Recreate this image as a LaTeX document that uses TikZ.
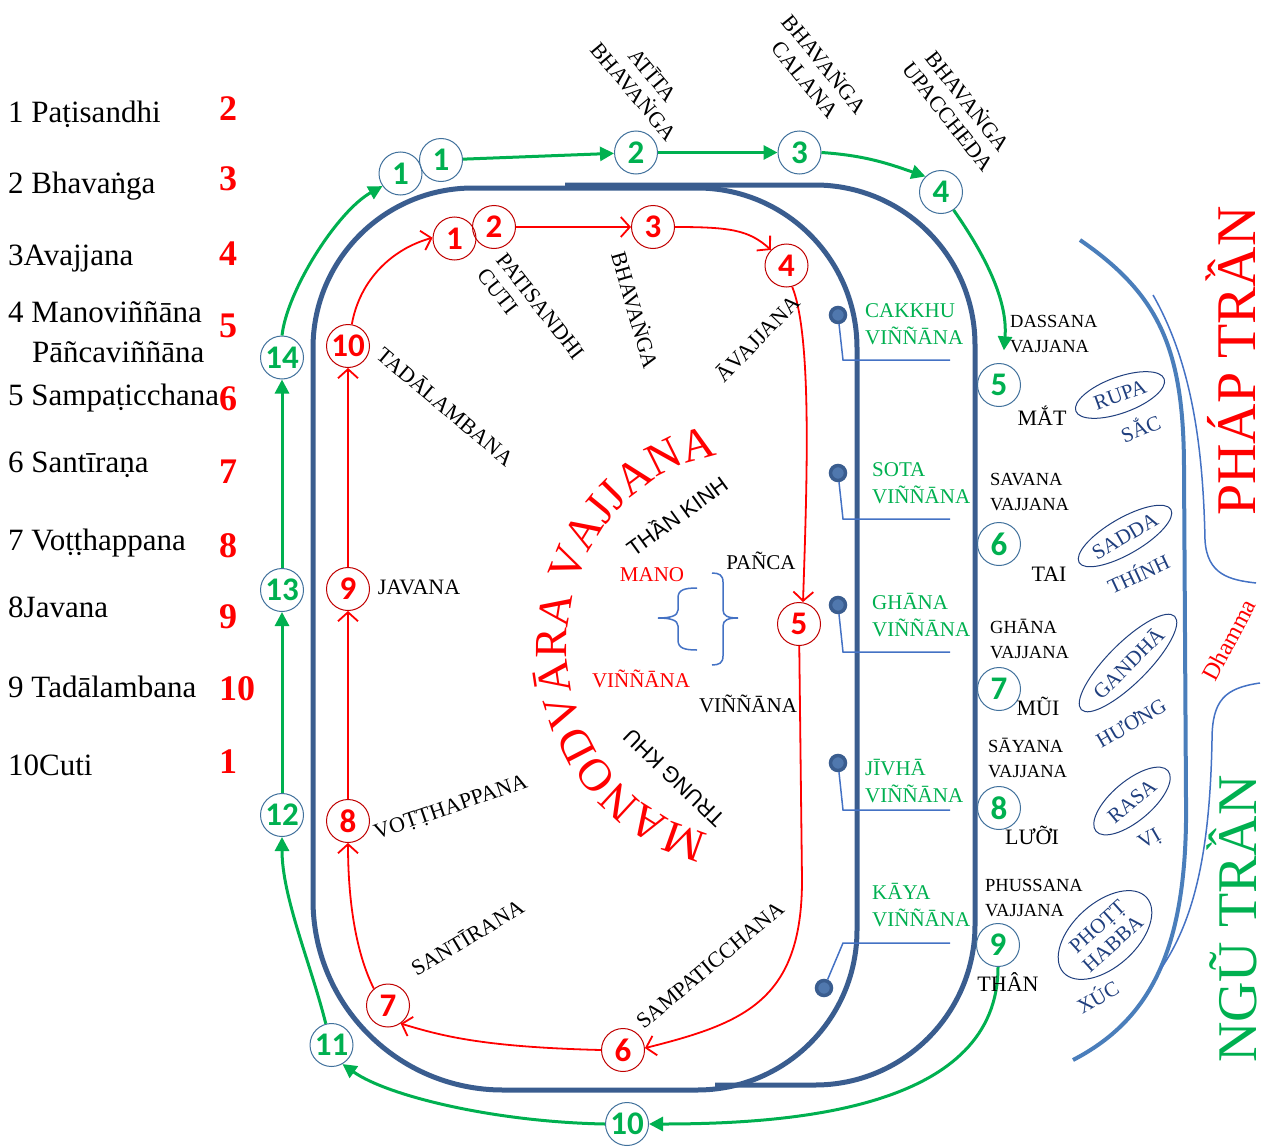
\documentclass[tikz,border=0pt]{standalone}
\usepackage{fontspec}
\setmainfont{Liberation Serif}
\newfontfamily\numfnt{Carlito}
\newfontfamily\sansfnt{Liberation Sans}
\usetikzlibrary{arrows.meta,shapes.geometric,decorations.text}
\definecolor{rblue}{HTML}{3A5D8F}
\definecolor{lblue}{HTML}{4A7EBB}
\definecolor{tblue}{HTML}{4472C4}
\definecolor{cblue}{HTML}{41719C}
\definecolor{gg}{HTML}{00B050}
\definecolor{rr}{HTML}{FF0000}
\definecolor{rcol}{HTML}{C00000}
\definecolor{dblue}{HTML}{203F7E}
\definecolor{dotin}{HTML}{5078AE}
\newcommand\bigfnt{\fontsize{46}{46}\selectfont}
\begin{document}
\begin{tikzpicture}[x=1pt,y=1pt,
  gcirc/.style={circle,draw=cblue,line width=1pt,minimum size=43pt,inner sep=0pt,text=gg,font=\numfnt\bfseries\fontsize{33}{33}\selectfont},
  rcirc/.style={circle,draw=rcol,line width=1pt,minimum size=43pt,inner sep=0pt,text=rr,font=\numfnt\bfseries\fontsize{33}{33}\selectfont},
  garr/.style={draw=gg,line width=3pt,-{Triangle[length=14pt,width=14pt]}},
  rarr/.style={draw=rr,line width=1.8pt,-{Straight Barb[length=9pt,width=20pt]}},
  bigbox/.style={draw=rblue,line width=5pt},
  lbl/.style={inner sep=0pt,align=center,font=\fontsize{22}{25}\selectfont},
  lst/.style={anchor=base west,inner sep=0pt,font=\fontsize{31}{31}\selectfont},
  lnum/.style={anchor=base west,inner sep=0pt,text=rr,font=\bfseries\fontsize{36}{36}\selectfont},
  gl/.style={anchor=west,align=left,inner sep=0pt,text=gg,font=\fontsize{21}{27}\selectfont},
  bl/.style={anchor=west,align=left,inner sep=0pt,font=\fontsize{18.5}{25}\selectfont},
  bw/.style={inner sep=0pt,font=\fontsize{22}{25}\selectfont},
  ell/.style={ellipse,draw=dblue,line width=1pt,inner sep=0pt,text=dblue,align=center,font=\fontsize{21}{23}\selectfont},
  dbt/.style={inner sep=0pt,text=dblue,font=\fontsize{21}{23}\selectfont},
  bdot/.style={circle,fill=dotin,draw=rblue,line width=3.5pt,minimum size=15pt,inner sep=0pt},
  cl/.style={draw=tblue,line width=1.5pt},
  brc/.style={draw=tblue,line width=1.5pt},
  ]
\useasboundingbox (0,0) rectangle (1266,-1148);

% ---------- big blue frames ----------
\draw[bigbox] (313,-600) -- (313,-348) arc[start angle=180,end angle=90,radius=160]
  -- (697,-188) arc[start angle=90,end angle=0,radius=160]
  -- (857,-930) arc[start angle=0,end angle=-90,radius=160]
  -- (503,-1090) arc[start angle=270,end angle=180,radius=190] -- cycle;
\draw[bigbox] (565,-185) -- (815,-185) arc[start angle=90,end angle=0,radius=160]
  -- (975,-925) arc[start angle=0,end angle=-90,radius=160] -- (715,-1085);

% ---------- right curves ----------
\draw[draw=lblue,line width=4pt] (1080,-240) .. controls (1160,-295) and (1184,-350) .. (1184,-470)
  -- (1186,-800) .. controls (1188,-950) and (1150,-1020) .. (1073,-1060);
\draw[cl] (1153,-295) .. controls (1190,-360) and (1203,-440) .. (1205,-540)
  .. controls (1207,-575) and (1230,-580) .. (1256,-583);
\draw[cl] (1260,-683) .. controls (1225,-688) and (1212,-700) .. (1212,-740)
  .. controls (1210,-850) and (1195,-920) .. (1160,-970);

% ---------- dots and callouts ----------
\coordinate (d1a) at (843,-360); \coordinate (d1b) at (950,-360);
\coordinate (d2a) at (843,-519); \coordinate (d2b) at (950,-519);
\coordinate (d3a) at (843,-652); \coordinate (d3b) at (950,-652);
\coordinate (d4a) at (843,-810); \coordinate (d4b) at (950,-810);
\coordinate (d5a) at (843,-943); \coordinate (d5b) at (950,-943);
\node[bdot] (d1) at (838,-315) {};
\node[bdot] (d2) at (838,-473) {};
\node[bdot] (d3) at (838,-605) {};
\node[bdot] (d4) at (838,-763) {};
\node[bdot] (d5) at (824,-988) {};
\draw[cl] (d1) -- (d1a) -- (d1b);
\draw[cl] (d2) -- (d2a) -- (d2b);
\draw[cl] (d3) -- (d3a) -- (d3b);
\draw[cl] (d4) -- (d4a) -- (d4b);
\draw[cl] (d5) -- (d5a) -- (d5b);

% ---------- green circles ----------
\node[gcirc] (g1a) at (400.5,-173.5) {1};
\node[gcirc] (g1b) at (441,-160) {1};
\node[gcirc] (g2) at (636,-152.5) {2};
\node[gcirc] (g3) at (799.5,-152.5) {3};
\node[gcirc] (g4) at (941,-192) {4};
\node[gcirc] (g5) at (999,-385) {5};
\node[gcirc] (g6) at (999,-544) {6};
\node[gcirc] (g7) at (999,-689) {7};
\node[gcirc] (g8) at (999,-808) {8};
\node[gcirc] (g9) at (998,-945) {9};
\node[gcirc] (g10) at (627,-1124) {10};
\node[gcirc] (g11) at (331.5,-1045) {11};
\node[gcirc] (g12) at (282,-815) {12};
\node[gcirc] (g13) at (282,-590) {13};
\node[gcirc] (g14) at (282,-357.5) {14};

% ---------- green arrows ----------
\draw[garr] (g1b) -- (g2);
\draw[garr] (g2) -- (g3);
\draw[garr] (g3.east) .. controls +(45,-3) and +(-35,12) .. (g4.135);
\draw[garr,shorten >=13pt] (g4.-55) .. controls +(35,-50) and +(5,60) .. (g5.80);
\draw[garr] (g9.south) .. controls +(0,-140) and +(150,0) .. (g10.east);
\draw[garr] (g10.west) .. controls +(-110,2) and +(45,-32) .. (g11.-60);
\draw[garr] (g11.105) .. controls +(-15,60) and +(0,-60) .. (g12.south);
\draw[garr] (g12) -- (g13);
\draw[garr] (g13) -- (g14);
\draw[garr] (g14.north) .. controls +(5,45) and +(-45,-25) .. (g1a.215);

% ---------- red circles ----------
\node[rcirc] (r1) at (454.5,-238.5) {1};
\node[rcirc] (r2) at (494,-227) {2};
\node[rcirc] (r3) at (653,-227) {3};
\node[rcirc] (r4) at (786.5,-265.5) {4};
\node[rcirc] (r5) at (799,-624) {5};
\node[rcirc] (r6) at (623,-1050) {6};
\node[rcirc] (r7) at (388,-1005.5) {7};
\node[rcirc] (r8) at (348,-821) {8};
\node[rcirc] (r9) at (348,-589) {9};
\node[rcirc] (r10) at (348,-346) {10};
\coordinate (r56) at (802,-880);

% ---------- red arrows ----------
\draw[rarr] (r10.80) .. controls +(8,45) and +(-40,-11) .. (r1.178);
\draw[rarr] (r2) -- (r3);
\draw[rarr] (r3.east) .. controls +(55,0) and +(-22,20) .. (r4.135);
\draw[rarr] (r4.-75) .. controls +(20,-50) and +(4,120) .. ([xshift=4pt]r5.north);
\draw[rarr] (r5) -- (r56) .. controls +(0,-120) and +(100,25) .. (r6.5);
\draw[rarr] (r6.west) .. controls +(-120,3) and +(40,-12) .. (r7.-55);
\draw[rarr] (r7.130) .. controls +(-20,40) and +(0,-50) .. (r8.south);
\draw[rarr] (r8) -- (r9);
\draw[rarr] (r9) -- (r10);

% ---------- left list ----------
\node[lst] (l1) at (8,-122) {1 Paṭisandhi};
\node[lst] (l2) at (8,-193) {2 Bhavaṅga};
\node[lst] (l3) at (8,-265) {3Avajjana};
\node[lst] (l4) at (8,-322) {4 Manoviññāna};
\node[lst] (l4b) at (32,-362) {Pāñcaviññāna};
\node[lst] (l5) at (8,-405) {5 Sampaṭicchana};
\node[lst] (l6) at (8,-472) {6 Santīraṇa};
\node[lst] (l7) at (8,-550) {7 Voṭṭhappana};
\node[lst] (l8) at (8,-617) {8Javana};
\node[lst] (l9) at (8,-697) {9 Tadālambana};
\node[lst] (l10) at (8,-775) {10Cuti};
\node[lnum] (n1) at (219,-120) {2};
\node[lnum] (n2) at (219,-190) {3};
\node[lnum] (n3) at (219,-265) {4};
\node[lnum] (n4) at (219,-337) {5};
\node[lnum] (n5) at (219,-410) {6};
\node[lnum] (n6) at (219,-483) {7};
\node[lnum] (n7) at (219,-557) {8};
\node[lnum] (n8) at (219,-628) {9};
\node[lnum] (n9) at (219,-700) {10};
\node[lnum] (n10) at (219,-773) {1};

% ---------- rotated stage labels ----------
\node[lbl,rotate=-50] (tAtita) at (644,-83) {ATĪTA\\BHAVAṄGA};
\node[lbl,rotate=-51] (tCalana) at (816,-71) {BHAVAṄGA\\CALANA};
\node[lbl,rotate=-52] (tUpac) at (959,-108) {BHAVAṄGA\\UPACCHEDA};
\node[lbl,rotate=-52,align=left] (tPati) at (531,-314) {PATISANDHI\\CUTI};
\node[lbl,rotate=-74] (tBhav) at (636,-310) {BHAVAṄGA};
\node[lbl,rotate=46] (tAvaj) at (757,-338) {ĀVAJJANA};
\node[lbl,rotate=-40] (tTada) at (446,-406) {TADĀLAMBANA};
\node[lbl] (tJav) at (419,-587) {JAVANA};
\node[lbl,rotate=19] (tVot) at (451,-808) {VOṬṬHAPPANA};
\node[lbl,rotate=31] (tSant) at (467,-937) {SANTĪRANA};
\node[lbl,rotate=40] (tSamp) at (710,-965) {SAMPATICCHANA};

% ---------- centre ----------
\coordinate (mcen) at (745,-645);
\path[decorate,decoration={text along path,text align=center,text color=rr,
   text={|\bigfnt|MANODVĀRA VAJJANA}}]
   ([shift={(270:178 and 192)}]mcen) arc[start angle=270,end angle=87,x radius=178,y radius=192];
\node[lbl,rotate=36,font=\sansfnt\fontsize{22}{25}\selectfont] (tThan) at (676,-515) {THẦN KINH};
\node[lbl,rotate=136,font=\sansfnt\fontsize{22}{25}\selectfont] (tTrung) at (674,-778) {TRUNG KHU};
\node[bw,text=rr,font=\fontsize{21}{24}\selectfont] (tMano) at (652,-575) {MANO};
\node[bw,font=\fontsize{21}{24}\selectfont] (tPanca) at (761,-561) {PAÑCA};
\node[bw,text=rr,font=\fontsize{21}{24}\selectfont] (tVinR) at (641,-679) {VIÑÑĀNA};
\node[bw,font=\fontsize{21}{24}\selectfont] (tVinB) at (748,-704) {VIÑÑĀNA};
\draw[brc] (697,-588) .. controls (684,-588) and (678,-590) .. (678,-598) -- (678,-610)
  .. controls (678,-616) and (670,-618) .. (658,-618)
  .. controls (670,-618) and (678,-620) .. (678,-626) -- (678,-640)
  .. controls (678,-648) and (684,-650) .. (697,-650);
\draw[brc] (712,-573) .. controls (719,-573) and (723,-575) .. (723,-582) -- (723,-610)
  .. controls (723,-616) and (728,-618) .. (738,-618)
  .. controls (728,-618) and (723,-620) .. (723,-626) -- (723,-656)
  .. controls (723,-663) and (719,-665) .. (712,-665);

% ---------- green sense labels ----------
\node[gl] (gCak) at (865,-324.5) {CAKKHU\\VIÑÑĀNA};
\node[gl] (gSot) at (872,-483.5) {SOTA\\VIÑÑĀNA};
\node[gl] (gGha) at (872,-615) {GHĀNA\\VIÑÑĀNA};
\node[gl] (gJiv) at (865,-781.5) {JĪVHĀ\\VIÑÑĀNA};
\node[gl] (gKay) at (872,-905) {KĀYA\\VIÑÑĀNA};

% ---------- black sense labels ----------
\node[bl] (bDas) at (1010,-334) {DASSANA\\VAJJANA};
\node[bl] (bSav) at (990,-492.5) {SAVANA\\VAJJANA};
\node[bl] (bGha) at (990,-638.5) {GHĀNA\\VAJJANA};
\node[bl] (bSay) at (988,-758) {SĀYANA\\VAJJANA};
\node[bl] (bPhu) at (985,-898) {PHUSSANA\\VAJJANA};
\node[bw] (wMat) at (1042,-416) {MẮT};
\node[bw] (wTai) at (1049,-574) {TAI};
\node[bw] (wMui) at (1038,-706) {MŨI};
\node[bw] (wLuoi) at (1032,-835) {LƯỠI};
\node[bw] (wThan) at (1008,-982) {THÂN};

% ---------- objects (ellipses) ----------
\node[ell,rotate=20,minimum width=94pt,minimum height=36pt] (eRupa) at (1120,-395) {RUPA};
\node[dbt,rotate=22] (oSac) at (1140,-427) {SẮC};
\node[ell,rotate=30,minimum width=106pt,minimum height=36pt] (eSadda) at (1125,-536) {SADDA};
\node[dbt,rotate=25] (oThinh) at (1138,-573) {THÍNH};
\node[ell,rotate=45,minimum width=132pt,minimum height=40pt] (eGand) at (1128,-663) {GANDHĀ};
\node[dbt,rotate=30] (oHuong) at (1131,-723) {HƯƠNG};
\node[ell,rotate=40,minimum width=94pt,minimum height=40pt] (eRasa) at (1132,-801) {RASA};
\node[dbt,rotate=30] (oVi) at (1150,-840) {VỊ};
\node[ell,rotate=42,minimum width=112pt,minimum height=64pt] (ePhot) at (1105,-935) {PHOṬṬ\\HABBA};
\node[dbt,rotate=30] (oXuc) at (1097,-996) {XÚC};

% ---------- right titles ----------
\node[rotate=90,anchor=base,inner sep=0pt,text=rr,font=\fontsize{56}{56}\selectfont] (tPhap) at (1255,-361) {PHÁP TRẦN};
\node[rotate=90,anchor=base,inner sep=0pt,text=gg,font=\fontsize{56}{56}\selectfont] (tNgu) at (1256,-919) {NGŨ TRẦN};
\node[rotate=62,inner sep=0pt,text=rr,font=\fontsize{24}{26}\selectfont] (tDham) at (1229,-640) {Dhamma};
\end{tikzpicture}
\end{document}
